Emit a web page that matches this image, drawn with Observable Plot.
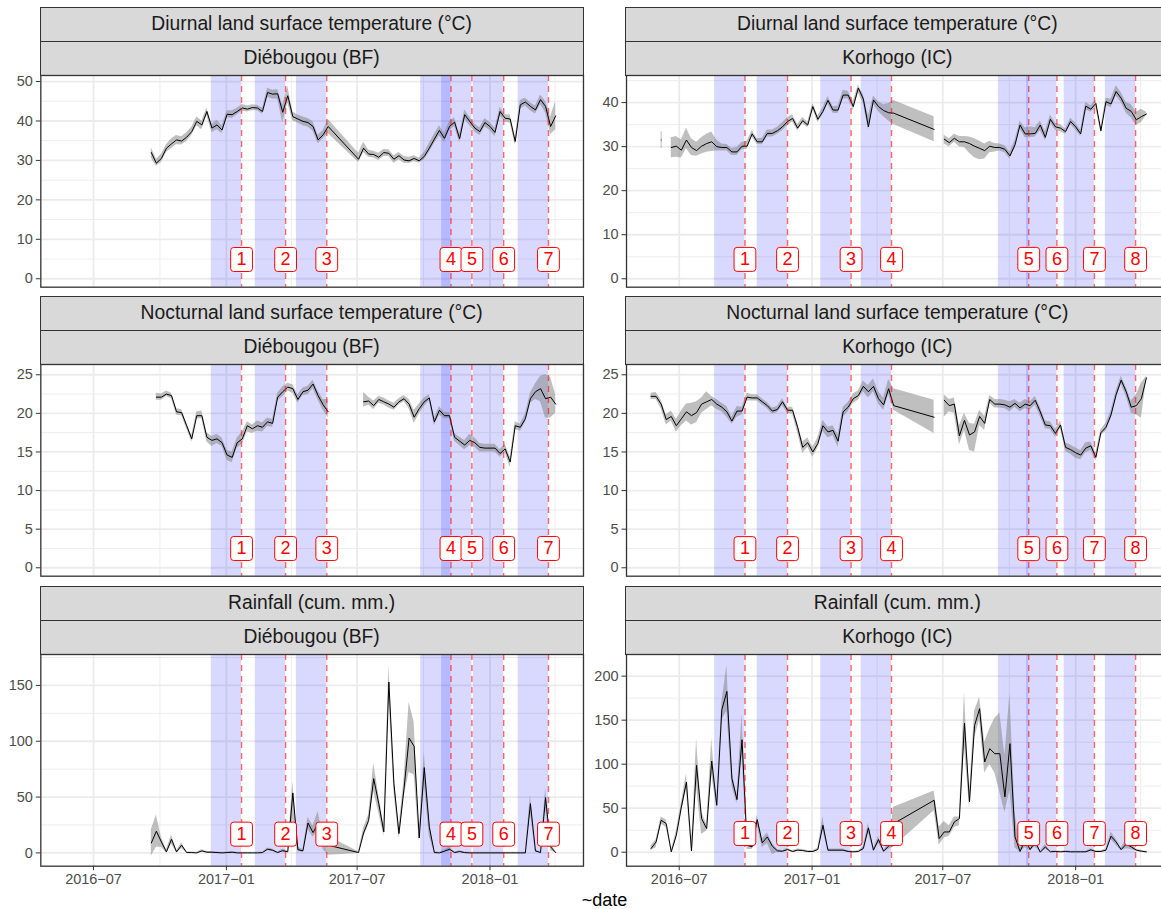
<!DOCTYPE html>
<html><head><meta charset="utf-8">
<script src="https://cdn.jsdelivr.net/npm/d3@7"></script>
<script src="https://cdn.jsdelivr.net/npm/@observablehq/plot@0.6"></script>
<style>
html,body{margin:0;padding:0;background:#fff;overflow:hidden;}
#root{position:relative;width:1161px;height:909px;overflow:hidden;font-family:"Liberation Sans",Arial,sans-serif;background:#fff;}
.strip{position:absolute;box-sizing:border-box;background:#d9d9d9;border:1.3px solid #333;color:#1a1a1a;font-size:19.3px;display:flex;align-items:center;justify-content:center;white-space:nowrap;}
.panel{position:absolute;}
.panel svg{max-width:none;overflow:visible;display:block;}
.xtitle{position:absolute;font-size:18px;color:#000;transform:translate(-50%,-50%);white-space:nowrap;}
</style></head><body><div id="root"></div><script>
const NA = NaN;
// weekly dates, index = week + 17
const weeks = [
"2016-05-23","2016-05-30","2016-06-06","2016-06-13","2016-06-20","2016-06-27","2016-07-04","2016-07-11","2016-07-18","2016-07-25",
"2016-08-01","2016-08-08","2016-08-15","2016-08-22","2016-08-29","2016-09-05","2016-09-12",
"2016-09-19","2016-09-26","2016-10-03","2016-10-10","2016-10-17","2016-10-24","2016-10-31","2016-11-07","2016-11-14","2016-11-21",
"2016-11-28","2016-12-05","2016-12-12","2016-12-19","2016-12-26","2017-01-02","2017-01-09","2017-01-16","2017-01-23","2017-01-30",
"2017-02-06","2017-02-13","2017-02-20","2017-02-27","2017-03-06","2017-03-13","2017-03-20","2017-03-27","2017-04-03","2017-04-10",
"2017-04-17","2017-04-24","2017-05-01","2017-05-08","2017-05-15","2017-05-22","2017-05-29","2017-06-05","2017-06-12","2017-06-19",
"2017-06-26","2017-07-03","2017-07-10","2017-07-17","2017-07-24","2017-07-31","2017-08-07","2017-08-14","2017-08-21","2017-08-28",
"2017-09-04","2017-09-11","2017-09-18","2017-09-25","2017-10-02","2017-10-09","2017-10-16","2017-10-23","2017-10-30","2017-11-06",
"2017-11-13","2017-11-20","2017-11-27","2017-12-04","2017-12-11","2017-12-18","2017-12-25","2018-01-01","2018-01-08","2018-01-15",
"2018-01-22","2018-01-29","2018-02-05","2018-02-12","2018-02-19","2018-02-26","2018-03-05","2018-03-12","2018-03-19","2018-03-26",
"2018-04-02","2018-04-09"];

// [week, mean, lower, upper]
const dayLstDie = [
[0,32.0,30.6,33.2],[1,29.3,28.5,30.3],[2,30.5,29.5,31.5],[3,33.1,32.0,34.0],[4,34.2,33.0,35.5],[5,35.2,34.0,36.3],[6,34.9,33.9,36.0],[7,35.9,34.8,37.0],[8,37.3,36.3,38.4],[9,39.9,38.8,41.0],
[10,39.0,37.8,40.0],[11,42.4,41.4,43.2],[12,38.2,37.0,39.2],[13,39.0,37.8,40.2],[14,37.7,36.8,38.8],[15,41.7,40.8,42.6],[16,41.6,40.6,42.6],[17,42.4,41.6,43.2],[18,43.3,42.5,44.2],[19,43.0,42.3,43.8],
[20,43.4,42.6,44.1],[21,43.3,42.6,44.0],[22,42.4,41.7,43.2],[23,47.2,46.0,48.3],[24,46.8,45.6,47.8],[25,46.9,45.5,48.0],[26,42.2,39.5,44.0],[27,46.4,44.5,48.8],[28,41.1,40.0,42.3],[29,40.5,39.5,41.5],
[30,39.9,38.8,41.0],[31,39.6,38.5,40.6],[32,38.6,37.4,39.8],[33,35.2,34.2,36.4],[34,36.5,35.5,37.6],[35,38.6,36.8,40.4],
[41,30.3,29.5,31.8],[42,33.1,32.0,34.6],[43,31.6,30.8,32.6],[44,31.5,30.6,32.3],[45,30.8,30.0,31.8],[46,32.0,31.0,32.8],[47,31.8,31.0,32.7],[48,30.3,29.3,31.2],[49,31.2,30.2,32.0],
[50,30.1,29.3,31.0],[51,29.9,29.2,30.8],[52,30.5,29.7,31.2],[53,29.9,29.3,30.6],[54,31.0,30.2,32.0],[55,33.1,32.0,34.3],[56,35.4,34.2,36.6],[57,37.6,36.2,38.8],[58,35.6,34.6,36.8],[59,38.6,37.5,39.8],
[60,39.7,38.6,40.8],[61,35.5,34.5,36.7],[62,41.6,40.4,42.8],[63,39.9,38.8,41.0],[64,38.2,37.2,39.2],[65,37.3,36.3,38.3],[66,39.6,38.5,40.6],[67,38.6,37.6,39.6],[68,37.1,36.0,38.2],[69,42.4,41.3,43.5],
[70,40.7,39.7,41.6],[71,40.5,39.5,41.5],[72,34.8,34.0,35.8],[73,44.1,43.0,45.2],[74,44.8,43.8,45.8],[75,43.7,42.6,44.6],[76,42.8,41.8,43.8],[77,45.4,44.2,46.6],[78,43.7,42.0,45.0],[79,38.6,36.5,41.0],
[80,41.3,37.8,45.0]];

const dayLstKor = [
[-15,31.5,29.6,33.4],[-14,NA,NA,NA],
[-13,29.8,27.5,32.0],[-12,30.1,27.6,32.3],[-11,29.2,27.4,31.5],[-10,31.5,29.5,34.2],[-9,29.8,28.0,31.8],[-8,29.1,27.8,31.0],[-7,30.1,28.3,32.0],[-6,30.7,28.7,32.8],[-5,31.1,28.9,33.3],[-4,30.0,29.0,31.5],
[-3,29.8,29.0,30.6],[-2,29.8,29.0,30.5],[-1,28.8,28.0,29.6],[0,28.8,28.0,29.8],[1,30.1,29.3,31.0],[2,30.1,29.4,31.2],[3,32.9,32.2,33.6],[4,31.1,30.5,31.8],[5,31.1,30.4,31.9],[6,33.0,32.2,33.8],
[7,33.0,32.2,33.8],[8,33.6,32.8,34.4],[9,34.5,33.6,35.4],[10,35.7,34.8,36.6],[11,36.4,35.6,37.2],[12,34.2,33.6,35.0],[13,35.9,35.2,36.6],[14,34.9,34.3,35.6],[15,39.1,38.5,39.8],[16,36.2,35.5,37.0],
[17,38.0,37.2,38.8],[18,40.5,39.6,41.4],[19,38.3,37.6,39.1],[20,38.3,37.5,39.2],[21,41.7,40.8,42.8],[22,41.7,40.8,42.6],[23,39.1,38.2,40.2],[24,43.3,42.2,44.0],[25,40.8,39.8,41.8],[26,34.5,33.8,37.0],
[27,40.6,39.6,41.5],[28,39.1,38.0,40.2],[29,38.2,36.8,39.5],[30,37.7,35.8,39.8],[31,37.6,35.0,40.5],[39,33.9,31.1,36.8],[40,NA,NA,NA],
[41,31.7,30.6,32.6],[42,30.9,30.0,31.8],[43,31.9,31.0,32.8],[44,31.1,30.0,32.3],[45,31.1,29.8,32.3],[46,30.7,28.5,32.2],[47,30.1,27.5,31.8],[48,29.6,27.0,31.2],[49,29.1,27.2,30.6],
[50,30.1,28.6,31.2],[51,29.8,28.8,30.7],[52,29.8,29.0,30.6],[53,29.4,28.6,30.2],[54,27.9,27.2,28.7],[55,30.4,29.6,31.4],[56,34.9,34.0,35.8],[57,32.9,32.0,34.3],[58,32.9,32.0,34.5],[59,33.0,32.2,34.3],
[60,34.9,33.6,35.8],[61,32.1,31.4,33.4],[62,36.2,35.4,37.2],[63,34.5,33.7,35.3],[64,34.2,33.4,35.0],[65,33.4,32.8,34.0],[66,35.7,35.0,36.5],[67,34.5,33.8,35.3],[68,32.9,32.3,33.7],[69,39.2,38.4,40.0],
[70,38.5,37.8,39.3],[71,39.8,38.8,40.6],[72,33.6,33.0,34.3],[73,40.2,39.4,41.0],[74,39.7,38.8,40.8],[75,42.5,41.5,43.8],[76,41.0,40.0,42.3],[77,38.7,37.6,40.0],[78,38.0,36.5,39.5],[79,36.1,34.8,37.8],
[80,36.8,35.5,38.5],[81,37.4,37.0,37.8]];

const nightLstDie = [
[1,22.1,21.7,22.6],[2,22.1,21.7,22.5],[3,22.5,22.2,22.9],[4,22.3,21.9,22.6],[5,20.2,19.8,20.6],[6,20.1,19.7,20.5],[7,18.4,18.0,18.8],[8,16.7,16.3,17.1],[9,19.7,19.3,20.2],
[10,19.7,19.3,20.3],[11,16.9,16.3,17.5],[12,16.5,15.7,17.0],[13,16.7,16.1,17.3],[14,16.2,15.7,16.8],[15,14.6,13.9,15.2],[16,14.3,13.6,15.0],[17,16.2,15.5,16.8],[18,16.7,16.0,17.6],[19,18.4,17.6,18.9],
[20,18.0,17.4,18.5],[21,18.4,17.7,19.0],[22,18.2,17.6,18.8],[23,18.9,18.3,19.4],[24,18.7,18.2,19.2],[25,22.1,21.6,22.6],[26,22.8,22.2,23.4],[27,23.4,22.9,23.9],[28,23.2,22.6,23.7],[29,21.8,21.3,22.4],
[30,22.8,22.3,23.3],[31,23.0,22.4,23.5],[32,23.8,23.2,24.3],[33,22.3,21.7,22.9],[34,21.1,20.4,21.8],[35,20.2,19.4,21.8],[36,NA,NA,NA],
[42,21.5,20.8,22.7],[43,21.6,21.1,22.1],[44,21.0,20.5,21.6],[45,21.8,21.3,22.2],[46,21.5,21.1,22.0],[47,21.2,20.7,21.6],[48,20.8,20.4,21.3],[49,21.5,21.1,21.9],
[50,21.9,21.5,22.3],[51,21.2,20.6,21.8],[52,19.5,18.7,20.4],[53,20.6,19.9,21.2],[54,21.5,20.9,22.0],[55,22.0,21.6,22.4],[56,18.9,18.4,19.3],[57,20.4,19.8,20.9],[58,19.7,19.3,20.1],[59,19.7,19.3,20.1],
[60,16.9,16.4,17.4],[61,16.4,15.8,16.9],[62,15.9,15.3,16.5],[63,16.5,15.8,17.3],[64,16.2,15.6,16.8],[65,15.6,15.0,16.1],[66,15.5,15.0,16.0],[67,15.5,15.0,16.0],[68,15.5,15.0,16.0],[69,14.8,14.3,15.3],
[70,15.4,14.9,16.0],[71,13.7,13.0,14.3],[72,18.4,17.9,18.9],[73,18.2,17.7,18.6],[74,19.3,18.8,19.9],[75,21.9,21.3,22.6],[76,22.8,21.8,23.8],[77,23.2,21.5,24.8],[78,21.9,19.4,25.0],[79,22.1,19.4,24.6],
[80,21.2,20.0,22.4]];

const nightLstKor = [
[-17,22.2,21.8,22.6],[-16,22.2,21.8,22.7],[-15,21.2,20.6,21.7],[-14,19.2,18.5,19.8],[-13,19.6,19.0,20.3],[-12,18.4,17.6,19.2],[-11,19.3,18.4,20.3],[-10,20.2,19.0,21.2],[-9,19.7,18.5,21.3],[-8,20.1,18.8,21.5],
[-7,21.2,20.0,22.0],[-6,21.5,20.5,22.8],[-5,21.8,21.0,22.2],[-4,21.2,20.5,21.8],[-3,20.8,20.2,21.3],[-2,20.2,19.5,20.9],[-1,19.0,18.6,19.5],[0,20.3,19.5,20.9],[1,20.3,19.8,20.8],[2,22.1,21.6,22.6],
[3,22.0,21.6,22.4],[4,22.0,21.6,22.4],[5,21.5,21.1,21.9],[6,21.0,20.6,21.4],[7,20.3,19.9,20.7],[8,20.5,20.1,20.9],[9,21.5,21.0,21.9],[10,20.4,20.0,20.8],[11,20.4,19.9,20.8],[12,18.2,17.5,18.7],
[13,15.6,14.8,16.3],[14,16.2,15.6,16.8],[15,15.0,14.3,15.6],[16,16.1,15.5,16.8],[17,18.4,17.7,19.1],[18,17.6,16.8,18.2],[19,17.8,17.1,18.4],[20,16.4,15.6,17.2],[21,20.2,19.5,20.8],[22,20.8,20.2,21.4],
[23,21.9,21.3,22.5],[24,22.3,21.7,22.9],[25,23.5,22.8,24.2],[26,22.8,22.0,23.6],[27,23.5,22.8,24.5],[28,21.9,21.2,22.8],[29,21.1,20.4,22.0],[30,23.2,22.4,24.4],[31,21.0,20.4,23.2],[39,19.5,17.4,21.7],
[40,NA,NA,NA],
[41,21.7,19.5,22.4],[42,21.0,20.2,21.8],[43,21.2,20.0,22.0],[44,17.1,15.9,18.4],[45,19.1,17.8,20.0],[46,17.2,15.2,18.7],[47,17.6,15.0,18.6],[48,19.6,18.4,20.4],[49,18.7,17.8,19.6],
[50,21.8,21.3,22.3],[51,21.2,20.7,21.8],[52,21.2,20.7,21.8],[53,21.1,20.6,21.7],[54,20.8,20.2,21.5],[55,21.3,20.8,21.8],[56,20.7,20.2,21.3],[57,21.2,20.6,21.8],[58,21.0,20.4,21.5],[59,21.7,21.1,22.2],
[60,20.2,19.6,20.8],[61,18.5,18.0,19.0],[62,18.4,17.9,18.9],[63,17.4,16.9,17.9],[64,18.5,18.0,19.0],[65,15.6,15.1,16.2],[66,15.3,14.7,15.9],[67,14.9,14.2,15.5],[68,14.6,14.0,15.2],[69,15.5,14.9,16.2],
[70,15.8,15.2,16.3],[71,14.3,13.8,14.9],[72,17.5,17.1,17.9],[73,18.2,17.7,18.7],[74,19.8,19.3,20.3],[75,22.4,21.9,22.9],[76,24.3,23.8,24.8],[77,22.8,22.2,23.4],[78,20.8,20.0,21.6],[79,21.0,19.8,22.4],
[80,21.9,19.4,23.9],[81,24.6,24.3,24.8]];

const rainDie = [
[0,8.9,-3.0,20.5],[1,19.4,5.0,34.0],[2,9.8,5.0,14.0],[3,0.9,0.0,2.5],[4,12.2,8.0,16.0],[5,0.9,0.0,2.0],[6,6.9,4.0,9.0],[7,0.3,0.0,0.8],[8,0.3,0.0,0.8],[9,0.0,0.0,0.5],
[10,1.8,0.8,2.8],[11,0.6,0.0,1.2],[12,0.6,0.0,1.2],[13,0.3,0.0,0.8],[14,0.0,0.0,0.5],[15,0.3,0.0,0.8],[16,0.6,0.0,1.2],[17,0.0,0.0,0.5],[18,0.0,0.0,0.5],[19,0.0,0.0,0.5],
[20,0.0,0.0,0.5],[21,0.0,0.0,0.5],[22,0.3,0.0,0.8],[23,3.3,2.0,4.5],[24,2.4,1.2,3.5],[25,0.3,0.0,0.8],[26,2.0,0.5,3.5],[27,1.0,0.0,2.0],[28,53.7,30.0,63.5],[29,3.0,1.0,5.0],
[30,1.8,0.5,3.0],[31,26.8,21.0,32.0],[32,18.2,14.0,24.0],[33,26.2,20.0,37.0],[34,8.9,3.0,14.0],[35,6.9,-2.0,15.0],
[41,0.3,-0.5,1.0],[42,17.9,14.0,22.0],[43,29.2,25.0,34.0],[44,66.5,55.0,80.0],[45,44.1,36.0,52.0],[46,18.8,15.0,25.0],[47,153.0,140.0,168.0],[48,62.0,55.0,70.0],[49,17.3,13.0,22.0],
[50,57.6,50.0,66.0],[51,102.9,72.0,135.0],[52,95.4,70.0,117.0],[53,13.4,10.0,17.0],[54,76.4,62.0,90.0],[55,23.0,15.0,30.0],[56,0.3,0.0,1.0],[57,0.0,0.0,0.5],[58,1.5,0.5,2.5],[59,3.3,1.5,5.0],
[60,0.3,0.0,0.8],[61,1.2,0.3,2.0],[62,0.3,0.0,0.8],[63,0.0,0.0,0.5],[64,0.0,0.0,0.5],[65,0.0,0.0,0.5],[66,0.0,0.0,0.5],[67,0.0,0.0,0.5],[68,0.0,0.0,0.5],[69,0.0,0.0,0.5],
[70,0.0,0.0,0.5],[71,0.0,0.0,0.5],[72,0.0,0.0,0.5],[73,0.0,0.0,0.5],[74,0.0,0.0,0.5],[75,44.1,36.0,51.6],[76,1.8,0.5,3.0],[77,0.3,0.0,0.8],[78,49.5,40.0,57.6],[79,5.4,2.0,9.0],
[80,0.3,0.0,1.0]];

const rainKor = [
[-17,4.2,2.0,7.0],[-16,11.7,5.0,14.0],[-15,36.3,32.0,40.0],[-14,32.5,28.0,37.0],[-13,0.4,0.0,1.0],[-12,19.3,15.0,24.0],[-11,51.4,46.0,56.0],[-10,79.8,70.0,89.0],[-9,1.5,0.0,3.0],[-8,98.7,75.0,129.0],
[-7,38.2,20.0,45.0],[-6,26.8,24.0,32.0],[-5,103.6,88.0,129.0],[-4,53.3,50.0,57.0],[-3,161.8,150.0,170.0],[-2,182.6,160.0,212.0],[-1,83.6,75.0,92.0],[0,59.7,55.0,65.0],[1,127.8,110.0,157.0],[2,7.9,3.0,15.0],
[3,6.0,3.0,10.0],[4,37.0,30.0,42.0],[5,10.6,5.0,15.0],[6,17.4,10.0,22.0],[7,6.8,-3.0,10.0],[8,1.5,0.0,3.0],[9,1.1,0.3,2.0],[10,3.0,1.5,4.5],[11,0.8,0.0,1.5],[12,2.3,1.0,3.5],
[13,1.9,1.0,3.0],[14,0.8,0.0,1.5],[15,0.8,0.0,1.5],[16,3.0,1.5,4.5],[17,30.6,25.0,40.0],[18,2.3,1.0,3.5],[19,2.3,1.0,3.5],[20,2.3,1.0,3.5],[21,2.3,1.0,3.5],[22,0.8,0.0,1.5],
[23,0.4,0.0,1.0],[24,0.8,0.0,1.5],[25,4.2,2.0,6.0],[26,27.6,22.0,33.0],[27,2.3,1.0,3.5],[28,14.4,10.0,18.0],[29,1.1,0.3,2.0],[30,6.8,3.0,10.0],[31,32.5,6.0,51.0],[39,59.0,47.0,69.6],
[40,15.5,8.0,28.7],[41,23.0,16.0,35.0],[42,23.0,18.0,30.0],[43,34.4,28.0,40.0],[44,38.2,30.0,40.0],[45,146.7,120.0,182.0],[46,57.1,50.0,66.0],[47,144.0,130.0,160.0],[48,163.0,150.0,176.0],[49,102.5,90.0,125.0],
[50,117.6,100.0,140.0],[51,111.9,90.0,152.0],[52,111.9,68.0,158.0],[53,62.8,45.0,110.0],[54,123.3,70.0,180.0],[55,17.4,5.0,45.0],[56,0.8,0.0,5.0],[57,13.6,5.0,20.0],[58,3.0,1.5,4.5],[59,11.7,6.0,16.0],
[60,0.0,0.0,0.8],[61,6.0,3.0,9.0],[62,0.4,0.0,1.0],[63,0.8,0.0,1.5],[64,0.4,0.0,1.0],[65,0.8,0.0,1.5],[66,0.4,0.0,1.0],[67,0.4,0.0,1.0],[68,0.4,0.0,1.0],[69,0.4,0.0,1.0],
[70,2.6,1.2,4.0],[71,0.8,0.0,1.5],[72,0.8,0.0,1.5],[73,2.3,1.0,3.5],[74,18.1,14.0,23.0],[75,11.7,8.0,15.0],[76,3.0,1.5,4.5],[77,9.1,4.0,15.0],[78,6.0,3.0,9.0],[79,2.3,1.0,3.5],
[80,1.1,0.3,2.0],[81,0.4,0.0,1.0]];

// survey dates and 6-week windows
const surveyIdsDie = ["1","2","3","4","5","6","7"];
const surveyDatesDie = ["2017-01-22","2017-03-24","2017-05-20","2017-11-08","2017-12-07","2018-01-20","2018-03-23"];
const windowStartDie = ["2016-12-11","2017-02-10","2017-04-08","2017-09-27","2017-10-26","2017-12-09","2018-02-09"];
const surveyIdsKor = ["1","2","3","4","5","6","7","8"];
const surveyDatesKor = ["2016-09-30","2016-11-28","2017-02-24","2017-04-21","2017-10-28","2017-12-06","2018-01-27","2018-03-25"];
const windowStartKor = ["2016-08-19","2016-10-17","2017-01-13","2017-03-10","2017-09-16","2017-10-25","2017-12-16","2018-02-11"];

const variables = ["Diurnal land surface temperature (°C)","Nocturnal land surface temperature (°C)","Rainfall (cum. mm.)"];
const sites = ["Diébougou (BF)","Korhogo (IC)"];

const xMajor = ["2016-07-01","2017-01-01","2017-07-01","2018-01-01"];
const xMinor = ["2016-10-01","2017-04-01","2017-10-01","2018-04-01"];
const xDomain = ["2016-04-19","2018-05-10T12:00"];

const yDomains = [[[-2.14,51.53],[-1.91,46.15]],[[-1.09,26.33],[-1.09,26.33]],[[-11.9,177.7],[-15.9,224.6]]];
const yMajors = [[[0,10,20,30,40,50],[0,10,20,30,40]],[[0,5,10,15,20,25],[0,5,10,15,20,25]],[[0,50,100,150],[0,50,100,150,200]]];
const yMinors = [[[5,15,25,35,45],[5,15,25,35,45]],[[2.5,7.5,12.5,17.5,22.5],[2.5,7.5,12.5,17.5,22.5]],[[25,75,125,175],[25,75,125,175]]];
const seriesGrid = [[dayLstDie, dayLstKor],[nightLstDie, nightLstKor],[rainDie, rainKor]];

// layout (px)
const FRAME_W = 542.7, FRAME_H = 211.7, STRIP_H = 33.85;
const colFrameLeft = [40.3, 626];
const colSvgLeft = [0, 585];
const rowFrameTop = [75, 364, 654];

const labelBox = {draw(ctx) {
  const w = 10.9, h = 12, r = 3;
  ctx.moveTo(-w + r, -h); ctx.lineTo(w - r, -h); ctx.arcTo(w, -h, w, -h + r, r);
  ctx.lineTo(w, h - r); ctx.arcTo(w, h, w - r, h, r);
  ctx.lineTo(-w + r, h); ctx.arcTo(-w, h, -w, h - r, r);
  ctx.lineTo(-w, -h + r); ctx.arcTo(-w, -h, -w + r, -h, r); ctx.closePath();
}};

const root = document.getElementById("root");
const fmt = d => `${d.getUTCFullYear()}\u2212${String(d.getUTCMonth() + 1).padStart(2, "0")}`;
const toDate = s => new Date(s.length > 10 ? s + "Z" : s);

for (let r = 0; r < 3; r++) for (let c = 0; c < 2; c++) {
  const fl = colFrameLeft[c], ft = rowFrameTop[r];
  // strips
  [variables[r], sites[c]].forEach((txt, i) => {
    const s = document.createElement("div");
    s.className = "strip";
    s.textContent = txt;
    s.style.left = (fl - 0.65) + "px";
    s.style.top = (ft - STRIP_H * (2 - i) - 0.65) + "px";
    s.style.width = (FRAME_W + 1.3) + "px";
    s.style.height = (STRIP_H + 1.3) + "px";
    root.appendChild(s);
  });
  const raw = seriesGrid[r][c];
  const data = raw.map(([k, m, l, h]) => ({date: toDate(weeks[k + 17]), m, l, h}));
  const labelY = 0.1 * d3.max(data, d => d.h);
  const ids = c === 0 ? surveyIdsDie : surveyIdsKor;
  const dates = c === 0 ? surveyDatesDie : surveyDatesKor;
  const starts = c === 0 ? windowStartDie : windowStartKor;
  const sv = ids.map((id, i) => ({id, date: toDate(dates[i]), start: toDate(starts[i]), y: labelY}));
  const fin = d => d && Number.isFinite(d.m);
  const isolated = data.filter((d, i) => fin(d) && !fin(data[i - 1]) && !fin(data[i + 1]));
  const showX = r === 2;
  const mt = 2, mb = showX ? 34 : 2, ml = fl - colSvgLeft[c], mr = 8;
  const grid = "#ebebeb";
  const marks = [
    Plot.ruleX(xMinor.map(toDate), {stroke: grid, strokeWidth: 0.9}),
    Plot.ruleY(yMinors[r][c], {stroke: grid, strokeWidth: 0.9}),
    Plot.ruleX(xMajor.map(toDate), {stroke: grid, strokeWidth: 1.8}),
    Plot.ruleY(yMajors[r][c], {stroke: grid, strokeWidth: 1.8}),
    Plot.rect(sv, {x1: "start", x2: "date", fill: "blue", fillOpacity: 0.15}),
    Plot.areaY(data, {x: "date", y1: "l", y2: "h", fill: "#7f7f7f", fillOpacity: 0.5}),
    Plot.ruleX(isolated, {x: "date", y1: "l", y2: "h", stroke: "#7f7f7f", strokeOpacity: 0.5, strokeWidth: 1}),
    Plot.line(data, {x: "date", y: "m", stroke: "black", strokeWidth: 1}),
    Plot.ruleX(sv, {x: "date", stroke: "red", strokeOpacity: 0.6, strokeWidth: 1.4, strokeDasharray: "6,5"}),
    Plot.dot(sv, {x: "date", y: "y", r: 5, symbol: labelBox, fill: "white", stroke: "red", strokeWidth: 1}),
    Plot.text(sv, {x: "date", y: "y", text: "id", fill: "red", fontSize: 18}),
    Plot.axisY(yMajors[r][c], {tickSize: 4.5, tickPadding: 3.5, stroke: "#333333", fill: "#4d4d4d", label: null, fontSize: 14.5}),
    Plot.frame({stroke: "#333333", strokeWidth: 1.3})
  ];
  if (showX) marks.push(Plot.axisX(xMajor.map(toDate), {tickSize: 4.5, tickPadding: 3.5, stroke: "#333333", fill: "#4d4d4d", label: null, fontSize: 14.5, tickFormat: fmt}));
  const svg = Plot.plot({
    width: ml + FRAME_W + mr, height: mt + FRAME_H + mb,
    marginLeft: ml, marginRight: mr, marginTop: mt, marginBottom: mb,
    x: {type: "utc", domain: xDomain.map(toDate), axis: showX ? undefined : null},
    y: {domain: yDomains[r][c]},
    style: {fontFamily: '"Liberation Sans", Arial, sans-serif', fontSize: "14.5px", background: "transparent", overflow: "visible"},
    marks
  });
  const wrap = document.createElement("div");
  wrap.className = "panel";
  wrap.style.left = colSvgLeft[c] + "px";
  wrap.style.top = (ft - mt) + "px";
  wrap.style.width = (ml + FRAME_W + mr) + "px";
  wrap.appendChild(svg);
  root.appendChild(wrap);
}
const xt = document.createElement("div");
xt.className = "xtitle";
xt.textContent = "~date";
xt.style.left = "604.5px";
xt.style.top = "900px";
root.appendChild(xt);
</script></body></html>
